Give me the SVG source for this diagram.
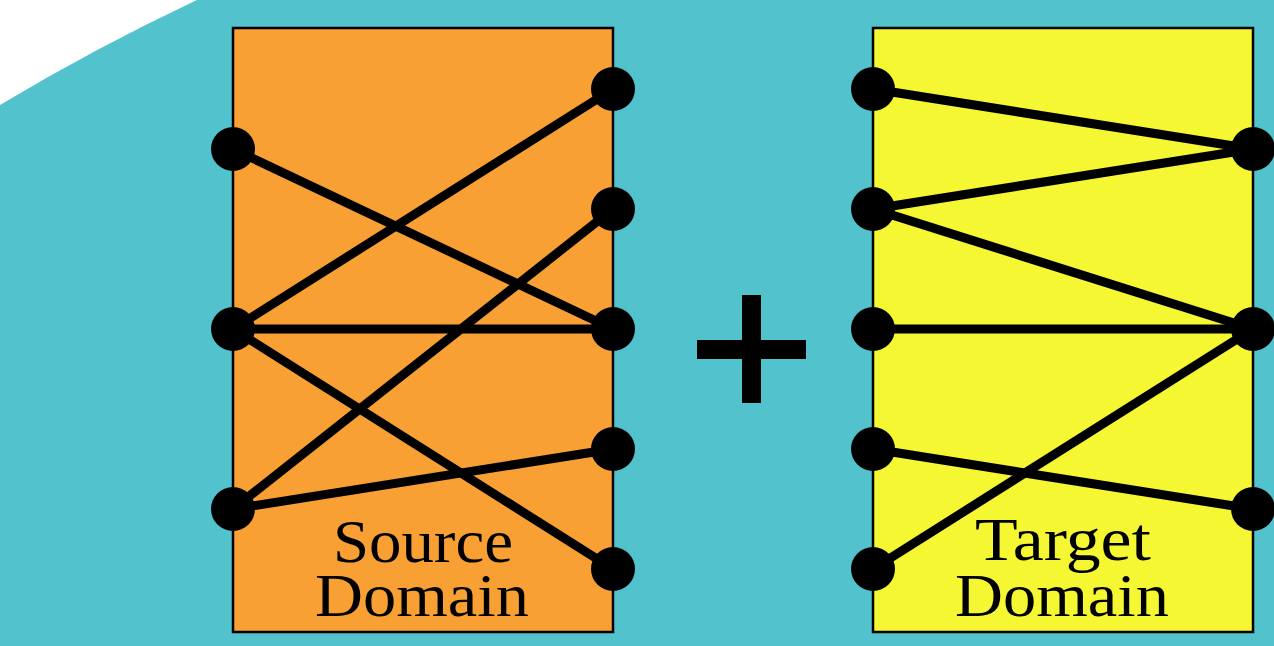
<svg xmlns="http://www.w3.org/2000/svg" width="1274" height="646" viewBox="0 0 1274 646">
<style>
.box{stroke:#000;stroke-width:2.5}
.edge{stroke:#000;stroke-width:9;stroke-linecap:round;fill:none}
.node{fill:#000}
.lbl{font-family:"Liberation Serif","DejaVu Serif",serif;font-size:62px;fill:#000;text-anchor:middle}
</style>
<rect x="0" y="0" width="1274" height="646" fill="#52C2CC"/>
<path d="M0,0 L197,0 Q95,48 0,105 Z" fill="#fff"/>
<g id="source-domain">
<rect class="box" x="233" y="28" width="380" height="604" fill="#F9A034"/>
<text class="lbl" x="423" y="562" textLength="180" lengthAdjust="spacingAndGlyphs">Source</text>
<text class="lbl" x="422" y="616" textLength="214" lengthAdjust="spacingAndGlyphs">Domain</text>
</g>
<g id="target-domain">
<rect class="box" x="873" y="28" width="380" height="604" fill="#F6F733"/>
<text class="lbl" x="1063" y="560" textLength="176" lengthAdjust="spacingAndGlyphs">Target</text>
<text class="lbl" x="1062" y="616" textLength="214" lengthAdjust="spacingAndGlyphs">Domain</text>
</g>
<g id="plus">
<rect x="742" y="295" width="19" height="108" fill="#000"/>
<rect x="697" y="340" width="109" height="19" fill="#000"/>
</g>
<g id="connectors">
<line class="edge" x1="233" y1="149" x2="613" y2="329"/>
<line class="edge" x1="233" y1="329" x2="613" y2="89"/>
<line class="edge" x1="233" y1="329" x2="613" y2="329"/>
<line class="edge" x1="233" y1="329" x2="613" y2="569"/>
<line class="edge" x1="233" y1="509" x2="613" y2="209"/>
<line class="edge" x1="233" y1="509" x2="613" y2="449"/>
<line class="edge" x1="873" y1="89" x2="1253" y2="149"/>
<line class="edge" x1="873" y1="209" x2="1253" y2="149"/>
<line class="edge" x1="873" y1="209" x2="1253" y2="329"/>
<line class="edge" x1="873" y1="329" x2="1253" y2="329"/>
<line class="edge" x1="873" y1="449" x2="1253" y2="509"/>
<line class="edge" x1="873" y1="569" x2="1253" y2="329"/>
</g>
<g id="source-left-nodes">
<circle class="node" id="s-l1" cx="233" cy="149" r="22"/>
<circle class="node" id="s-l2" cx="233" cy="329" r="22"/>
<circle class="node" id="s-l3" cx="233" cy="509" r="22"/>
</g>
<g id="source-right-nodes">
<circle class="node" id="s-r1" cx="613" cy="89" r="22"/>
<circle class="node" id="s-r2" cx="613" cy="209" r="22"/>
<circle class="node" id="s-r3" cx="613" cy="329" r="22"/>
<circle class="node" id="s-r4" cx="613" cy="449" r="22"/>
<circle class="node" id="s-r5" cx="613" cy="569" r="22"/>
</g>
<g id="target-left-nodes">
<circle class="node" id="t-l1" cx="873" cy="89" r="22"/>
<circle class="node" id="t-l2" cx="873" cy="209" r="22"/>
<circle class="node" id="t-l3" cx="873" cy="329" r="22"/>
<circle class="node" id="t-l4" cx="873" cy="449" r="22"/>
<circle class="node" id="t-l5" cx="873" cy="569" r="22"/>
</g>
<g id="target-right-nodes">
<circle class="node" id="t-r1" cx="1253" cy="149" r="22"/>
<circle class="node" id="t-r2" cx="1253" cy="329" r="22"/>
<circle class="node" id="t-r3" cx="1253" cy="509" r="22"/>
</g>
</svg>
